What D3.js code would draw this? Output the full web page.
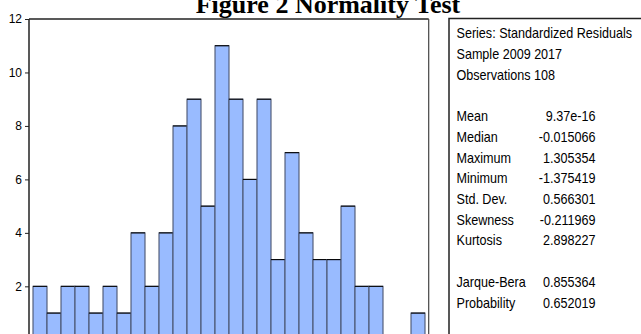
<!DOCTYPE html>
<html>
<head>
<meta charset="utf-8">
<script src="https://cdn.jsdelivr.net/npm/d3@7"></script>
<style>
html,body{margin:0;padding:0;background:#fff;overflow:hidden;}
svg{display:block;}
</style>
</head>
<body>
<script>
// ---- data ----
const binLow = [-1.4,-1.3,-1.2,-1.1,-1.0,-0.9,-0.8,-0.7,-0.6,-0.5,-0.4,-0.3,-0.2,-0.1,0.0,0.1,0.2,0.3,0.4,0.5,0.6,0.7,0.8,0.9,1.0,1.1,1.2,1.3];
const counts = [2,1,2,2,1,2,1,4,2,4,8,9,5,11,9,6,9,3,7,4,3,3,5,2,2,0,0,1];
const binWidth = 0.1;
const yTicks = [0,2,4,6,8,10,12];
const titleText = "Figure 2 Normality Test";
const headerLines = ["Series: Standardized Residuals","Sample 2009 2017","Observations 108"];
const statLabels = ["Mean","Median","Maximum","Minimum","Std. Dev.","Skewness","Kurtosis"];
const statValues = ["9.37e-16","-0.015066","1.305354","-1.375419","0.566301","-0.211969","2.898227"];
const testLabels = ["Jarque-Bera","Probability"];
const testValues = ["0.855364","0.652019"];

const W = 641, H = 334;
const svg = d3.select("body").append("svg").attr("width", W).attr("height", H);

const plotL = 29, plotR = 428.7, plotT = 19;
const x = d3.scaleLinear().domain([-1.4, 1.4]).range([33, 425]);
const y = d3.scaleLinear().domain([0, 12]).range([339.8, 19]);

// bars
const bars = svg.append("g");
binLow.forEach((b, i) => {
  const c = counts[i];
  if (c <= 0) return;
  const x0 = x(b), x1 = x(b + binWidth), yt = y(c), yb = y(0);
  bars.append("rect")
    .attr("x", x0).attr("y", yt).attr("width", x1 - x0).attr("height", yb - yt)
    .attr("fill", "#99bbff").attr("stroke", "#4a5570").attr("stroke-width", 1.1);
  bars.append("line")
    .attr("x1", x0).attr("x2", x1).attr("y1", yt).attr("y2", yt)
    .attr("stroke", "#000").attr("stroke-width", 1);
});

// frame
svg.append("line").attr("x1", plotL).attr("x2", plotR).attr("y1", plotT).attr("y2", plotT)
  .attr("stroke", "#222").attr("stroke-width", 1.5);
svg.append("line").attr("x1", plotL).attr("x2", plotL).attr("y1", plotT).attr("y2", 345)
  .attr("stroke", "#222").attr("stroke-width", 1.5);
svg.append("line").attr("x1", plotR).attr("x2", plotR).attr("y1", plotT).attr("y2", 345)
  .attr("stroke", "#444").attr("stroke-width", 1.2);

// y axis
const yAxis = d3.axisLeft(y).tickValues(yTicks).tickSize(4).tickPadding(3).tickFormat(d3.format("d"));
const ga = svg.append("g").attr("transform", `translate(${plotL},0)`).call(yAxis);
ga.select(".domain").remove();
ga.selectAll(".tick line").attr("stroke", "#222");
ga.selectAll(".tick text")
  .attr("font-family", "Liberation Sans, Arial, sans-serif")
  .attr("font-size", 12).attr("fill", "#000");

// title
svg.append("text").attr("x", 328).attr("y", 13)
  .attr("text-anchor", "middle")
  .attr("font-family", "Liberation Serif, Times New Roman, serif")
  .attr("font-weight", "bold").attr("font-size", 26)
  .attr("fill", "#000").text(titleText);

// stats box
svg.append("rect").attr("x", 449).attr("y", 18.5).attr("width", 300).attr("height", 400)
  .attr("fill", "none").attr("stroke", "#222").attr("stroke-width", 1.5);

const lineY = i => 38.5 + i * 20.7;
const fam = "Liberation Sans, Arial, sans-serif";
const lab = svg.append("g").attr("transform", "translate(456.5,0) scale(0.9,1)");
const val = svg.append("g").attr("transform", "translate(595.5,0) scale(0.9,1)");
headerLines.forEach((t, i) => {
  lab.append("text").attr("x", 0).attr("y", lineY(i)).attr("font-family", fam)
    .attr("font-size", 14).attr("fill", "#000").text(t);
});
statLabels.forEach((t, i) => {
  lab.append("text").attr("x", 0).attr("y", lineY(4 + i)).attr("font-family", fam)
    .attr("font-size", 14).attr("fill", "#000").text(t);
  val.append("text").attr("x", 0).attr("y", lineY(4 + i)).attr("text-anchor", "end")
    .attr("font-family", fam).attr("font-size", 14).attr("fill", "#000").text(statValues[i]);
});
testLabels.forEach((t, i) => {
  lab.append("text").attr("x", 0).attr("y", lineY(12 + i)).attr("font-family", fam)
    .attr("font-size", 14).attr("fill", "#000").text(t);
  val.append("text").attr("x", 0).attr("y", lineY(12 + i)).attr("text-anchor", "end")
    .attr("font-family", fam).attr("font-size", 14).attr("fill", "#000").text(testValues[i]);
});
</script>
</body>
</html>
